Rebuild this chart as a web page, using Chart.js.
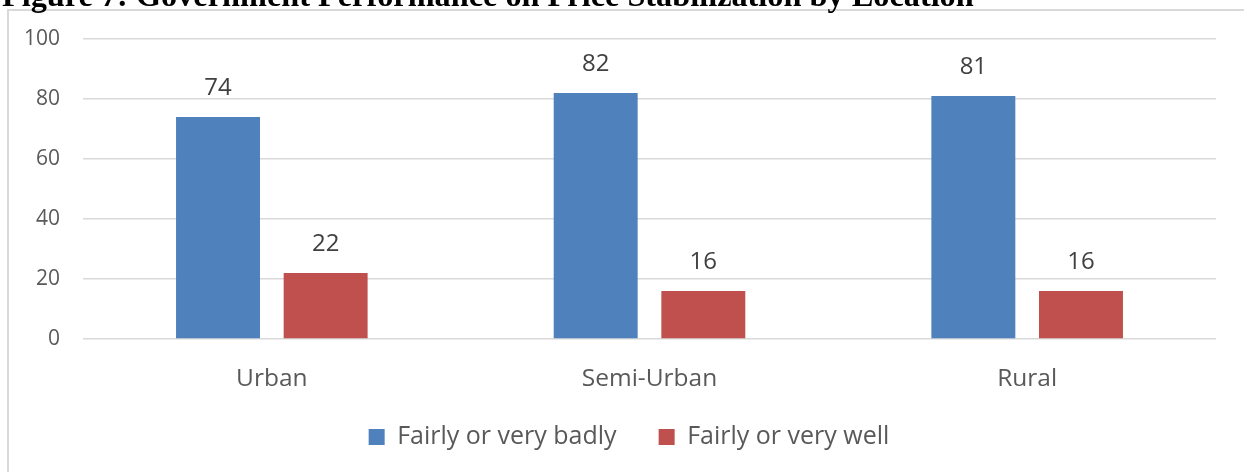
<!DOCTYPE html>
<html>
<head>
<meta charset="utf-8">
<script src="https://cdn.jsdelivr.net/npm/chart.js@4.4.0/dist/chart.umd.min.js"></script>
<style>
  html, body { margin: 0; padding: 0; background: #fff; overflow: hidden; }
  #wrap { position: relative; width: 1244px; height: 472px; }
  #chart { position: absolute; left: 0; top: 0; }
  #frame {
    position: absolute; left: 7px; top: 9px; width: 1300px; height: 500px;
    border-left: 2px solid #d9d9d9; border-top: 2px solid #d9d9d9;
    pointer-events: none;
  }
  #title {
    position: absolute; left: 2px; top: -21px; white-space: nowrap;
    font: bold 32.3px/32px "Liberation Serif", "Times New Roman", serif; color: #000;
  }
</style>
</head>
<body>
<div id="wrap">
  <canvas id="chart" width="1244" height="472"></canvas>
  <div id="frame"></div>
  <div id="title">Figure 7: Government Performance on Price Stabilization by Location</div>
</div>
<script>
const locations = ["Urban", "Semi-Urban", "Rural"];
const badlyValues = [74, 82, 81];
const wellValues = [22, 16, 16];
const seriesNames = ["Fairly or very badly", "Fairly or very well"];
const yTicks = [0, 20, 40, 60, 80, 100];

const FONT = '"Open Sans", "Noto Sans", sans-serif';

// Value labels above each bar (no datalabels plugin available offline)
const barLabelPlugin = {
    id: 'barLabels',
    afterDatasetsDraw(chart) {
        const { ctx } = chart;
        ctx.save();
        ctx.font = '24px ' + FONT;
        ctx.fillStyle = '#404040';
        ctx.textAlign = 'center';
        ctx.textBaseline = 'middle';
        chart.data.datasets.forEach((ds, di) => {
            const meta = chart.getDatasetMeta(di);
            meta.data.forEach((bar, i) => {
                ctx.fillText(String(ds.data[i]), bar.x, bar.y - 29);
            });
        });
        ctx.restore();
    }
};

// The legend needs a wide item gap (padding) but must sit close to the axis,
// so move it a little after layout instead of shrinking the x axis box.
const legendShiftPlugin = {
    id: 'legendShift',
    afterLayout(chart) {
        const lg = chart.legend;
        if (!lg) return;
        lg.top -= 12.5;
        lg.bottom -= 12.5;
        lg.left += 21;
        lg.right += 21;
    }
};

new Chart(document.getElementById('chart'), {
    type: 'bar',
    data: {
        labels: locations,
        datasets: [{
            label: seriesNames[0],
            data: badlyValues,
            backgroundColor: '#4f81bd'
        }, {
            label: seriesNames[1],
            data: wellValues,
            backgroundColor: '#c0504d'
        }]
    },
    options: {
        responsive: false,
        animation: false,
        events: [],
        layout: { padding: { top: 39, right: 28, bottom: 0, left: 0 } },
        datasets: {
            bar: { categoryPercentage: 0.57, barPercentage: 0.78 }
        },
        plugins: {
            tooltip: { enabled: false },
            legend: {
                position: 'bottom',
                labels: {
                    boxWidth: 16,
                    boxHeight: 16,
                    padding: 42,
                    color: '#595959',
                    font: { family: FONT, size: 25 }
                }
            }
        },
        scales: {
            x: {
                grid: { display: false, drawTicks: false },
                border: { display: false },
                ticks: {
                    padding: 25,
                    color: '#595959',
                    font: { family: FONT, size: 24.5 }
                },
                afterFit(axis) { axis.height = 56; }
            },
            y: {
                min: 0,
                max: 100,
                grid: { color: '#d9d9d9', lineWidth: 1.5, drawTicks: false },
                border: { display: false },
                ticks: {
                    stepSize: 20,
                    padding: 23,
                    color: '#595959',
                    font: { family: FONT, size: 21 }
                },
                afterBuildTicks(axis) { axis.ticks = yTicks.map(v => ({ value: v })); },
                afterFit(axis) { axis.width = 83; }
            }
        }
    },
    plugins: [barLabelPlugin, legendShiftPlugin]
});
</script>
</body>
</html>
